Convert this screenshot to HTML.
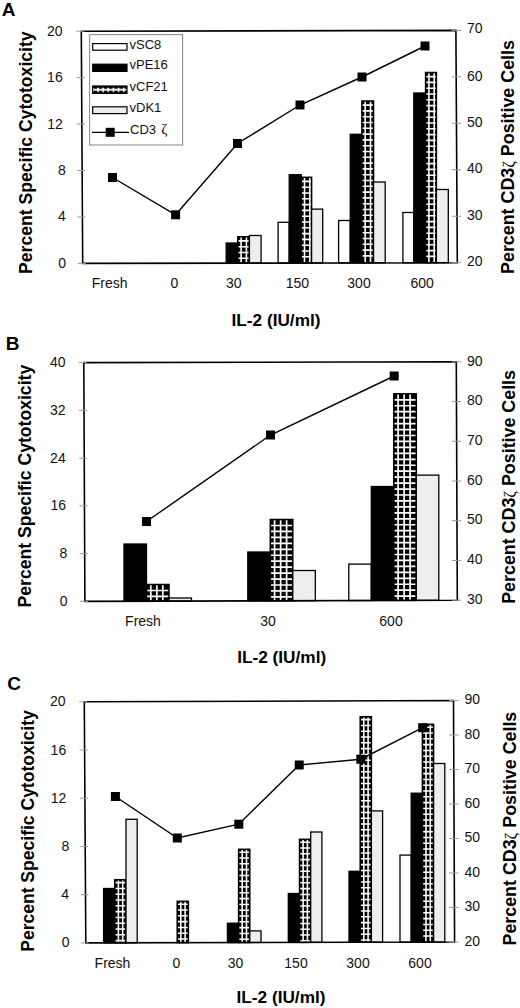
<!DOCTYPE html>
<html><head><meta charset="utf-8"><title>Figure</title>
<style>
html,body{margin:0;padding:0;background:#fff}
svg{display:block}
.t{font-family:"Liberation Sans", sans-serif;font-size:14px;fill:#111}
.b{font-family:"Liberation Sans", sans-serif;font-size:17px;font-weight:bold;fill:#000}
.s{font-size:13px}
.r{font-size:18.3px}
.L{font-family:"Liberation Sans", sans-serif;font-size:19px;font-weight:bold;fill:#000}
.z{font-family:"Liberation Serif","DejaVu Serif",serif;font-weight:normal}
</style></head>
<body>
<svg width="520" height="1008" viewBox="0 0 520 1008">
<defs>
<pattern id="grid" x="2.65" y="7.7" width="5.15" height="8" patternUnits="userSpaceOnUse"><rect width="5.15" height="8" fill="#000"/><rect y="1.1" width="5.15" height="1.8" fill="#fff"/><rect x="1.85" y="-0.4" width="1.6" height="4.8" fill="#fff"/></pattern>


</defs>
<rect width="520" height="1008" fill="#fff"/>
<rect x="226.15" y="243.00" width="11.65" height="20.12" fill="#000" stroke="#000" stroke-width="1.3"/>
<rect x="237.80" y="236.80" width="11.65" height="26.30" fill="#000" stroke="#000" stroke-width="1.5"/>
<path d="M241.10 237.50V262.40M246.40 237.50V262.40M238.55 240.90H248.70M238.55 246.70H248.70M238.55 252.50H248.70M238.55 258.30H248.70" stroke="#fff" stroke-width="1.6" fill="none"/>
<rect x="249.45" y="235.50" width="11.65" height="27.58" fill="#eee" stroke="#000" stroke-width="1.3"/>
<rect x="278.10" y="222.30" width="11.10" height="40.72" fill="#fff" stroke="#000" stroke-width="1.3"/>
<rect x="289.20" y="174.70" width="12.00" height="88.30" fill="#000" stroke="#000" stroke-width="1.3"/>
<rect x="301.20" y="177.30" width="10.40" height="85.68" fill="#000" stroke="#000" stroke-width="1.5"/>
<path d="M304.50 178.00V262.28M309.80 178.00V262.28M301.95 181.40H310.85M301.95 187.20H310.85M301.95 193.00H310.85M301.95 198.80H310.85M301.95 204.60H310.85M301.95 210.40H310.85M301.95 216.20H310.85M301.95 222.00H310.85M301.95 227.80H310.85M301.95 233.60H310.85M301.95 239.40H310.85M301.95 245.20H310.85M301.95 251.00H310.85M301.95 256.80H310.85" stroke="#fff" stroke-width="1.6" fill="none"/>
<rect x="311.60" y="209.10" width="11.10" height="53.86" fill="#eee" stroke="#000" stroke-width="1.3"/>
<rect x="338.60" y="220.50" width="11.65" height="42.41" fill="#fff" stroke="#000" stroke-width="1.3"/>
<rect x="350.25" y="134.30" width="11.65" height="128.59" fill="#000" stroke="#000" stroke-width="1.3"/>
<rect x="361.90" y="101.00" width="11.65" height="161.87" fill="#000" stroke="#000" stroke-width="1.5"/>
<path d="M365.20 101.70V262.17M370.50 101.70V262.17M362.65 105.10H372.80M362.65 110.90H372.80M362.65 116.70H372.80M362.65 122.50H372.80M362.65 128.30H372.80M362.65 134.10H372.80M362.65 139.90H372.80M362.65 145.70H372.80M362.65 151.50H372.80M362.65 157.30H372.80M362.65 163.10H372.80M362.65 168.90H372.80M362.65 174.70H372.80M362.65 180.50H372.80M362.65 186.30H372.80M362.65 192.10H372.80M362.65 197.90H372.80M362.65 203.70H372.80M362.65 209.50H372.80M362.65 215.30H372.80M362.65 221.10H372.80M362.65 226.90H372.80M362.65 232.70H372.80M362.65 238.50H372.80M362.65 244.30H372.80M362.65 250.10H372.80M362.65 255.90H372.80" stroke="#fff" stroke-width="1.6" fill="none"/>
<rect x="373.55" y="182.00" width="11.65" height="80.84" fill="#eee" stroke="#000" stroke-width="1.3"/>
<rect x="402.90" y="212.50" width="10.90" height="50.29" fill="#fff" stroke="#000" stroke-width="1.3"/>
<rect x="413.80" y="93.00" width="11.80" height="169.77" fill="#000" stroke="#000" stroke-width="1.3"/>
<rect x="425.60" y="72.50" width="10.80" height="190.25" fill="#000" stroke="#000" stroke-width="1.5"/>
<path d="M428.90 73.20V262.05M434.20 73.20V262.05M426.35 76.60H435.65M426.35 82.40H435.65M426.35 88.20H435.65M426.35 94.00H435.65M426.35 99.80H435.65M426.35 105.60H435.65M426.35 111.40H435.65M426.35 117.20H435.65M426.35 123.00H435.65M426.35 128.80H435.65M426.35 134.60H435.65M426.35 140.40H435.65M426.35 146.20H435.65M426.35 152.00H435.65M426.35 157.80H435.65M426.35 163.60H435.65M426.35 169.40H435.65M426.35 175.20H435.65M426.35 181.00H435.65M426.35 186.80H435.65M426.35 192.60H435.65M426.35 198.40H435.65M426.35 204.20H435.65M426.35 210.00H435.65M426.35 215.80H435.65M426.35 221.60H435.65M426.35 227.40H435.65M426.35 233.20H435.65M426.35 239.00H435.65M426.35 244.80H435.65M426.35 250.60H435.65M426.35 256.40H435.65" stroke="#fff" stroke-width="1.6" fill="none"/>
<rect x="436.40" y="189.50" width="11.90" height="73.23" fill="#eee" stroke="#000" stroke-width="1.3"/>
<polygon points="81.3,31.2 455.9,30.4 457.3,262.7 82.7,263.4" fill="none" stroke="#000" stroke-width="1.6"/>
<line x1="76.30" x2="84.30" y1="31.20" y2="31.20" stroke="#999" stroke-width="1"/>
<text x="62.6" y="35.70" text-anchor="end" class="t">20</text>
<line x1="76.58" x2="84.58" y1="77.64" y2="77.64" stroke="#999" stroke-width="1"/>
<text x="62.7" y="82.14" text-anchor="end" class="t">16</text>
<line x1="76.86" x2="84.86" y1="124.08" y2="124.08" stroke="#999" stroke-width="1"/>
<text x="62.9" y="128.58" text-anchor="end" class="t">12</text>
<line x1="77.14" x2="85.14" y1="170.52" y2="170.52" stroke="#999" stroke-width="1"/>
<text x="65.7" y="175.02" text-anchor="end" class="t">8</text>
<line x1="77.42" x2="85.42" y1="216.96" y2="216.96" stroke="#999" stroke-width="1"/>
<text x="65.7" y="221.46" text-anchor="end" class="t">4</text>
<line x1="77.70" x2="85.70" y1="263.40" y2="263.40" stroke="#999" stroke-width="1"/>
<text x="66.0" y="267.90" text-anchor="end" class="t">0</text>
<line x1="451.8" x2="461.3" y1="30.40" y2="30.40" stroke="#999" stroke-width="1"/>
<text x="467" y="33.40" class="t">70</text>
<line x1="451.8" x2="461.3" y1="76.86" y2="76.86" stroke="#999" stroke-width="1"/>
<text x="467" y="80.56" class="t">60</text>
<line x1="451.8" x2="461.3" y1="123.32" y2="123.32" stroke="#999" stroke-width="1"/>
<text x="467" y="127.02" class="t">50</text>
<line x1="451.8" x2="461.3" y1="169.78" y2="169.78" stroke="#999" stroke-width="1"/>
<text x="467" y="173.48" class="t">40</text>
<line x1="451.8" x2="461.3" y1="216.24" y2="216.24" stroke="#999" stroke-width="1"/>
<text x="467" y="219.94" class="t">30</text>
<line x1="451.8" x2="461.3" y1="262.70" y2="262.70" stroke="#999" stroke-width="1"/>
<text x="467" y="266.40" class="t">20</text>
<text x="109.6" y="288.3" text-anchor="middle" class="t">Fresh</text>
<text x="174.4" y="288.3" text-anchor="middle" class="t">0</text>
<text x="233.8" y="288.3" text-anchor="middle" class="t">30</text>
<text x="297.4" y="288.3" text-anchor="middle" class="t">150</text>
<text x="359" y="288.3" text-anchor="middle" class="t">300</text>
<text x="422.2" y="288.3" text-anchor="middle" class="t">600</text>
<text x="276" y="326" text-anchor="middle" class="b" textLength="89" lengthAdjust="spacingAndGlyphs">IL-2 (IU/ml)</text>
<text transform="translate(31.9,273.9) rotate(-90)" class="b r" textLength="242.5" lengthAdjust="spacingAndGlyphs">Percent Specific Cytotoxicity</text>
<text transform="translate(513.5,273.9) rotate(-90)" class="b r" textLength="233.8" lengthAdjust="spacingAndGlyphs">Percent CD3<tspan class="z" font-size="16.5">ζ</tspan> Positive Cells</text>
<polyline points="112.5,177.5 175.6,214.8 237.5,143.5 300.0,105.0 362.0,77.0 425.0,46.0" fill="none" stroke="#000" stroke-width="1.4"/>
<rect x="108.0" y="173.0" width="9" height="9" fill="#000"/>
<rect x="171.1" y="210.3" width="9" height="9" fill="#000"/>
<rect x="233.0" y="139.0" width="9" height="9" fill="#000"/>
<rect x="295.5" y="100.5" width="9" height="9" fill="#000"/>
<rect x="357.5" y="72.5" width="9" height="9" fill="#000"/>
<rect x="420.5" y="41.5" width="9" height="9" fill="#000"/>
<text x="1.8" y="15.7" class="L">A</text>
<rect x="89.7" y="34.7" width="93" height="110.3" fill="#fff" stroke="#666" stroke-width="0.8"/>
<rect x="92.7" y="43.6" width="34.3" height="6.6" fill="#fff" stroke="#000" stroke-width="1.2"/>
<text x="129.5" y="48.7" class="t s">vSC8</text>
<rect x="92.7" y="64.2" width="34.3" height="7.2" fill="#000" stroke="#000" stroke-width="1.2"/>
<text x="129.5" y="69.3" class="t s">vPE16</text>
<rect x="92.7" y="86" width="34.3" height="7.4" fill="url(#grid)" stroke="#000" stroke-width="1.2"/>
<text x="129.5" y="91.2" class="t s">vCF21</text>
<rect x="92.7" y="106.8" width="34.3" height="6.8" fill="#eee" stroke="#000" stroke-width="1.2"/>
<text x="129.5" y="112.3" class="t s">vDK1</text>
<line x1="92" x2="129" y1="132.3" y2="132.3" stroke="#000" stroke-width="1.3"/>
<rect x="105.7" y="127.8" width="9" height="9" fill="#000"/>
<text x="130" y="134.3" class="t s">CD3 <tspan class="z" dx="1.5" font-size="15">ζ</tspan></text>
<rect x="124.00" y="544.00" width="22.50" height="57.23" fill="#000" stroke="#000" stroke-width="1.3"/>
<rect x="146.50" y="584.50" width="22.50" height="16.66" fill="#000" stroke="#000" stroke-width="1.5"/>
<path d="M150.80 585.20V600.46M156.85 585.20V600.46M162.80 585.20V600.46M147.25 590.50H168.25M147.25 596.45H168.25" stroke="#fff" stroke-width="1.7" fill="none"/>
<rect x="169.00" y="598.00" width="22.50" height="3.09" fill="#eee" stroke="#000" stroke-width="1.3"/>
<rect x="247.80" y="552.00" width="22.50" height="48.84" fill="#000" stroke="#000" stroke-width="1.3"/>
<rect x="270.30" y="519.50" width="22.50" height="81.26" fill="#000" stroke="#000" stroke-width="1.5"/>
<path d="M274.60 520.20V600.06M280.65 520.20V600.06M286.60 520.20V600.06M271.05 525.50H292.05M271.05 531.45H292.05M271.05 537.40H292.05M271.05 543.35H292.05M271.05 549.30H292.05M271.05 555.25H292.05M271.05 561.20H292.05M271.05 567.15H292.05M271.05 573.10H292.05M271.05 579.05H292.05M271.05 585.00H292.05M271.05 590.95H292.05M271.05 596.90H292.05" stroke="#fff" stroke-width="1.7" fill="none"/>
<rect x="292.80" y="570.50" width="22.50" height="30.19" fill="#eee" stroke="#000" stroke-width="1.3"/>
<rect x="348.80" y="564.10" width="22.50" height="36.41" fill="#fff" stroke="#000" stroke-width="1.3"/>
<rect x="371.30" y="486.50" width="22.50" height="113.94" fill="#000" stroke="#000" stroke-width="1.3"/>
<rect x="393.80" y="393.80" width="22.50" height="206.57" fill="#000" stroke="#000" stroke-width="1.5"/>
<path d="M398.10 394.50V599.67M404.15 394.50V599.67M410.10 394.50V599.67M394.55 399.80H415.55M394.55 405.75H415.55M394.55 411.70H415.55M394.55 417.65H415.55M394.55 423.60H415.55M394.55 429.55H415.55M394.55 435.50H415.55M394.55 441.45H415.55M394.55 447.40H415.55M394.55 453.35H415.55M394.55 459.30H415.55M394.55 465.25H415.55M394.55 471.20H415.55M394.55 477.15H415.55M394.55 483.10H415.55M394.55 489.05H415.55M394.55 495.00H415.55M394.55 500.95H415.55M394.55 506.90H415.55M394.55 512.85H415.55M394.55 518.80H415.55M394.55 524.75H415.55M394.55 530.70H415.55M394.55 536.65H415.55M394.55 542.60H415.55M394.55 548.55H415.55M394.55 554.50H415.55M394.55 560.45H415.55M394.55 566.40H415.55M394.55 572.35H415.55M394.55 578.30H415.55M394.55 584.25H415.55M394.55 590.20H415.55M394.55 596.15H415.55" stroke="#fff" stroke-width="1.7" fill="none"/>
<rect x="416.30" y="475.10" width="22.50" height="125.19" fill="#eee" stroke="#000" stroke-width="1.3"/>
<polygon points="83.8,362.6 456.3,361.8 457.3,600.2 84.9,601.4" fill="none" stroke="#000" stroke-width="1.6"/>
<line x1="78.80" x2="86.80" y1="362.60" y2="362.60" stroke="#999" stroke-width="1"/>
<text x="65.5" y="367.10" text-anchor="end" class="t">40</text>
<line x1="79.02" x2="87.02" y1="410.36" y2="410.36" stroke="#999" stroke-width="1"/>
<text x="65.6" y="414.86" text-anchor="end" class="t">32</text>
<line x1="79.24" x2="87.24" y1="458.12" y2="458.12" stroke="#999" stroke-width="1"/>
<text x="65.7" y="462.62" text-anchor="end" class="t">24</text>
<line x1="79.46" x2="87.46" y1="505.88" y2="505.88" stroke="#999" stroke-width="1"/>
<text x="66.1" y="510.38" text-anchor="end" class="t">16</text>
<line x1="79.68" x2="87.68" y1="553.64" y2="553.64" stroke="#999" stroke-width="1"/>
<text x="67.4" y="558.14" text-anchor="end" class="t">8</text>
<line x1="79.90" x2="87.90" y1="601.40" y2="601.40" stroke="#999" stroke-width="1"/>
<text x="67.5" y="605.90" text-anchor="end" class="t">0</text>
<line x1="451.8" x2="461.3" y1="361.80" y2="361.80" stroke="#999" stroke-width="1"/>
<text x="467" y="365.50" class="t">90</text>
<line x1="451.8" x2="461.3" y1="401.53" y2="401.53" stroke="#999" stroke-width="1"/>
<text x="467" y="405.23" class="t">80</text>
<line x1="451.8" x2="461.3" y1="441.27" y2="441.27" stroke="#999" stroke-width="1"/>
<text x="467" y="444.97" class="t">70</text>
<line x1="451.8" x2="461.3" y1="481.00" y2="481.00" stroke="#999" stroke-width="1"/>
<text x="467" y="484.70" class="t">60</text>
<line x1="451.8" x2="461.3" y1="520.73" y2="520.73" stroke="#999" stroke-width="1"/>
<text x="467" y="524.43" class="t">50</text>
<line x1="451.8" x2="461.3" y1="560.47" y2="560.47" stroke="#999" stroke-width="1"/>
<text x="467" y="564.17" class="t">40</text>
<line x1="451.8" x2="461.3" y1="600.20" y2="600.20" stroke="#999" stroke-width="1"/>
<text x="467" y="603.90" class="t">30</text>
<text x="143" y="626.3" text-anchor="middle" class="t">Fresh</text>
<text x="268" y="626.3" text-anchor="middle" class="t">30</text>
<text x="391" y="626.3" text-anchor="middle" class="t">600</text>
<text x="281.7" y="662.6" text-anchor="middle" class="b" textLength="89" lengthAdjust="spacingAndGlyphs">IL-2 (IU/ml)</text>
<text transform="translate(31,607.5) rotate(-90)" class="b r" textLength="242.7" lengthAdjust="spacingAndGlyphs">Percent Specific Cytotoxicity</text>
<text transform="translate(515,603.8) rotate(-90)" class="b r" textLength="233.8" lengthAdjust="spacingAndGlyphs">Percent CD3<tspan class="z" font-size="16.5">ζ</tspan> Positive Cells</text>
<polyline points="146.5,521.5 270.5,435.0 394.2,376.0" fill="none" stroke="#000" stroke-width="1.4"/>
<rect x="142.0" y="517.0" width="9" height="9" fill="#000"/>
<rect x="266.0" y="430.5" width="9" height="9" fill="#000"/>
<rect x="389.7" y="371.5" width="9" height="9" fill="#000"/>
<text x="5.7" y="350" class="L">B</text><rect x="103.60" y="888.50" width="11.20" height="54.34" fill="#000" stroke="#000" stroke-width="1.3"/>
<rect x="114.80" y="879.70" width="11.20" height="63.11" fill="#000" stroke="#000" stroke-width="1.5"/>
<path d="M118.40 880.40V942.11M122.70 880.40V942.11M115.55 882.60H125.25M115.55 888.40H125.25M115.55 894.20H125.25M115.55 900.00H125.25M115.55 905.80H125.25M115.55 911.60H125.25M115.55 917.40H125.25M115.55 923.20H125.25M115.55 929.00H125.25M115.55 934.80H125.25M115.55 940.60H125.25" stroke="#fff" stroke-width="1.55" fill="none"/>
<rect x="126.00" y="819.30" width="11.20" height="123.48" fill="#eee" stroke="#000" stroke-width="1.3"/>
<rect x="177.20" y="901.30" width="11.20" height="41.36" fill="#000" stroke="#000" stroke-width="1.5"/>
<path d="M180.80 902.00V941.96M185.10 902.00V941.96M177.95 904.20H187.65M177.95 910.00H187.65M177.95 915.80H187.65M177.95 921.60H187.65M177.95 927.40H187.65M177.95 933.20H187.65M177.95 939.00H187.65" stroke="#fff" stroke-width="1.55" fill="none"/>
<rect x="227.40" y="923.20" width="11.20" height="19.34" fill="#000" stroke="#000" stroke-width="1.3"/>
<rect x="238.60" y="849.30" width="11.20" height="93.21" fill="#000" stroke="#000" stroke-width="1.5"/>
<path d="M242.20 850.00V941.81M246.50 850.00V941.81M239.35 852.20H249.05M239.35 858.00H249.05M239.35 863.80H249.05M239.35 869.60H249.05M239.35 875.40H249.05M239.35 881.20H249.05M239.35 887.00H249.05M239.35 892.80H249.05M239.35 898.60H249.05M239.35 904.40H249.05M239.35 910.20H249.05M239.35 916.00H249.05M239.35 921.80H249.05M239.35 927.60H249.05M239.35 933.40H249.05M239.35 939.20H249.05" stroke="#fff" stroke-width="1.55" fill="none"/>
<rect x="249.80" y="930.90" width="11.20" height="11.58" fill="#eee" stroke="#000" stroke-width="1.3"/>
<rect x="288.30" y="893.50" width="11.20" height="48.89" fill="#000" stroke="#000" stroke-width="1.3"/>
<rect x="299.50" y="839.30" width="11.20" height="103.06" fill="#000" stroke="#000" stroke-width="1.5"/>
<path d="M303.10 840.00V941.66M307.40 840.00V941.66M300.25 842.20H309.95M300.25 848.00H309.95M300.25 853.80H309.95M300.25 859.60H309.95M300.25 865.40H309.95M300.25 871.20H309.95M300.25 877.00H309.95M300.25 882.80H309.95M300.25 888.60H309.95M300.25 894.40H309.95M300.25 900.20H309.95M300.25 906.00H309.95M300.25 911.80H309.95M300.25 917.60H309.95M300.25 923.40H309.95M300.25 929.20H309.95M300.25 935.00H309.95M300.25 940.80H309.95" stroke="#fff" stroke-width="1.55" fill="none"/>
<rect x="310.70" y="832.00" width="11.20" height="110.34" fill="#eee" stroke="#000" stroke-width="1.3"/>
<rect x="349.00" y="871.30" width="11.20" height="70.94" fill="#000" stroke="#000" stroke-width="1.3"/>
<rect x="360.20" y="716.70" width="11.20" height="225.51" fill="#000" stroke="#000" stroke-width="1.5"/>
<path d="M363.80 717.40V941.51M368.10 717.40V941.51M360.95 719.60H370.65M360.95 725.40H370.65M360.95 731.20H370.65M360.95 737.00H370.65M360.95 742.80H370.65M360.95 748.60H370.65M360.95 754.40H370.65M360.95 760.20H370.65M360.95 766.00H370.65M360.95 771.80H370.65M360.95 777.60H370.65M360.95 783.40H370.65M360.95 789.20H370.65M360.95 795.00H370.65M360.95 800.80H370.65M360.95 806.60H370.65M360.95 812.40H370.65M360.95 818.20H370.65M360.95 824.00H370.65M360.95 829.80H370.65M360.95 835.60H370.65M360.95 841.40H370.65M360.95 847.20H370.65M360.95 853.00H370.65M360.95 858.80H370.65M360.95 864.60H370.65M360.95 870.40H370.65M360.95 876.20H370.65M360.95 882.00H370.65M360.95 887.80H370.65M360.95 893.60H370.65M360.95 899.40H370.65M360.95 905.20H370.65M360.95 911.00H370.65M360.95 916.80H370.65M360.95 922.60H370.65M360.95 928.40H370.65M360.95 934.20H370.65M360.95 940.00H370.65" stroke="#fff" stroke-width="1.55" fill="none"/>
<rect x="371.40" y="810.90" width="11.20" height="131.29" fill="#eee" stroke="#000" stroke-width="1.3"/>
<rect x="400.00" y="855.10" width="11.20" height="87.02" fill="#fff" stroke="#000" stroke-width="1.3"/>
<rect x="411.20" y="793.20" width="11.20" height="148.89" fill="#000" stroke="#000" stroke-width="1.3"/>
<rect x="422.40" y="724.30" width="11.20" height="217.76" fill="#000" stroke="#000" stroke-width="1.5"/>
<path d="M426.00 725.00V941.36M430.30 725.00V941.36M423.15 727.20H432.85M423.15 733.00H432.85M423.15 738.80H432.85M423.15 744.60H432.85M423.15 750.40H432.85M423.15 756.20H432.85M423.15 762.00H432.85M423.15 767.80H432.85M423.15 773.60H432.85M423.15 779.40H432.85M423.15 785.20H432.85M423.15 791.00H432.85M423.15 796.80H432.85M423.15 802.60H432.85M423.15 808.40H432.85M423.15 814.20H432.85M423.15 820.00H432.85M423.15 825.80H432.85M423.15 831.60H432.85M423.15 837.40H432.85M423.15 843.20H432.85M423.15 849.00H432.85M423.15 854.80H432.85M423.15 860.60H432.85M423.15 866.40H432.85M423.15 872.20H432.85M423.15 878.00H432.85M423.15 883.80H432.85M423.15 889.60H432.85M423.15 895.40H432.85M423.15 901.20H432.85M423.15 907.00H432.85M423.15 912.80H432.85M423.15 918.60H432.85M423.15 924.40H432.85M423.15 930.20H432.85M423.15 936.00H432.85" stroke="#fff" stroke-width="1.55" fill="none"/>
<rect x="433.60" y="763.50" width="11.20" height="178.54" fill="#eee" stroke="#000" stroke-width="1.3"/>
<polygon points="84.3,701.8 453.5,700.5 454.6,942.0 85.8,942.9" fill="none" stroke="#000" stroke-width="1.6"/>
<line x1="79.30" x2="87.30" y1="701.80" y2="701.80" stroke="#999" stroke-width="1"/>
<text x="65.5" y="706.30" text-anchor="end" class="t">20</text>
<line x1="79.60" x2="87.60" y1="750.02" y2="750.02" stroke="#999" stroke-width="1"/>
<text x="66.2" y="754.52" text-anchor="end" class="t">16</text>
<line x1="79.90" x2="87.90" y1="798.24" y2="798.24" stroke="#999" stroke-width="1"/>
<text x="66.4" y="802.74" text-anchor="end" class="t">12</text>
<line x1="80.20" x2="88.20" y1="846.46" y2="846.46" stroke="#999" stroke-width="1"/>
<text x="69.2" y="850.96" text-anchor="end" class="t">8</text>
<line x1="80.50" x2="88.50" y1="894.68" y2="894.68" stroke="#999" stroke-width="1"/>
<text x="69.0" y="899.18" text-anchor="end" class="t">4</text>
<line x1="80.80" x2="88.80" y1="942.90" y2="942.90" stroke="#999" stroke-width="1"/>
<text x="69.6" y="947.40" text-anchor="end" class="t">0</text>
<line x1="449" x2="458.5" y1="700.50" y2="700.50" stroke="#999" stroke-width="1"/>
<text x="464.5" y="704.20" class="t">90</text>
<line x1="449" x2="458.5" y1="735.00" y2="735.00" stroke="#999" stroke-width="1"/>
<text x="464.5" y="738.70" class="t">80</text>
<line x1="449" x2="458.5" y1="769.50" y2="769.50" stroke="#999" stroke-width="1"/>
<text x="464.5" y="773.20" class="t">70</text>
<line x1="449" x2="458.5" y1="804.00" y2="804.00" stroke="#999" stroke-width="1"/>
<text x="464.5" y="807.70" class="t">60</text>
<line x1="449" x2="458.5" y1="838.50" y2="838.50" stroke="#999" stroke-width="1"/>
<text x="464.5" y="842.20" class="t">50</text>
<line x1="449" x2="458.5" y1="873.00" y2="873.00" stroke="#999" stroke-width="1"/>
<text x="464.5" y="876.70" class="t">40</text>
<line x1="449" x2="458.5" y1="907.50" y2="907.50" stroke="#999" stroke-width="1"/>
<text x="464.5" y="911.20" class="t">30</text>
<line x1="449" x2="458.5" y1="942.00" y2="942.00" stroke="#999" stroke-width="1"/>
<text x="464.5" y="945.70" class="t">20</text>
<text x="112.5" y="967.7" text-anchor="middle" class="t">Fresh</text>
<text x="176.3" y="967.7" text-anchor="middle" class="t">0</text>
<text x="235.5" y="967.7" text-anchor="middle" class="t">30</text>
<text x="296" y="967.7" text-anchor="middle" class="t">150</text>
<text x="358" y="967.7" text-anchor="middle" class="t">300</text>
<text x="420" y="967.7" text-anchor="middle" class="t">600</text>
<text x="281" y="1002.7" text-anchor="middle" class="b" textLength="89" lengthAdjust="spacingAndGlyphs">IL-2 (IU/ml)</text>
<text transform="translate(33.7,951.8) rotate(-90)" class="b r" textLength="241.6" lengthAdjust="spacingAndGlyphs">Percent Specific Cytotoxicity</text>
<text transform="translate(516.3,945.5) rotate(-90)" class="b r" textLength="233.8" lengthAdjust="spacingAndGlyphs">Percent CD3<tspan class="z" font-size="16.5">ζ</tspan> Positive Cells</text>
<polyline points="115.4,796.5 177.3,838.0 238.8,824.2 299.2,765.0 360.8,759.2 422.7,727.7" fill="none" stroke="#000" stroke-width="1.4"/>
<rect x="110.9" y="792.0" width="9" height="9" fill="#000"/>
<rect x="172.8" y="833.5" width="9" height="9" fill="#000"/>
<rect x="234.3" y="819.7" width="9" height="9" fill="#000"/>
<rect x="294.7" y="760.5" width="9" height="9" fill="#000"/>
<rect x="356.3" y="754.7" width="9" height="9" fill="#000"/>
<rect x="418.2" y="723.2" width="9" height="9" fill="#000"/>
<text x="7.3" y="690" class="L">C</text>
</svg>
</body></html>
